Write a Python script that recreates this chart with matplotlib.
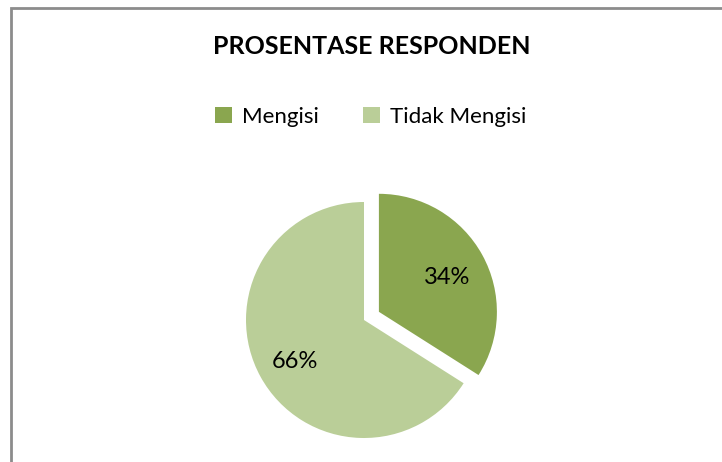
import matplotlib.pyplot as plt
from matplotlib.patches import Rectangle, Patch

labels = ["Mengisi", "Tidak Mengisi"]
values = [34, 66]
colors = ["#8AA64F", "#BACE98"]
title = "PROSENTASE RESPONDEN"

plt.rcParams['font.family'] = ['Lato', 'DejaVu Sans']

W, H = 722, 462
fig = plt.figure(figsize=(W / 100, H / 100), dpi=100)
ax = fig.add_axes([0, 0, 1, 1])

# outer chart frame (runs off the right and bottom edges)
ax.add_patch(Rectangle((11, -20), W + 40, H - 8 + 20, fill=False,
                       edgecolor='#8C8C8C', linewidth=2))

R = 118
# explode is in data units here (pixels), not a fraction of radius
wedges, texts = ax.pie(values, colors=colors, startangle=90, counterclock=False,
                       center=(364, H - 320), radius=R, explode=[17, 0],
                       frame=True, wedgeprops=dict(linewidth=0))
ax.set_xlim(0, W)
ax.set_ylim(0, H)
ax.set_aspect('equal')
ax.axis('off')

ax.text(447, H - 277, "34%", ha='center', va='center', fontsize=17, color='black')
ax.text(295, H - 362, "66%", ha='center', va='center', fontsize=17, color='black')

ax.text(372, H - 47, title, ha='center', va='center', fontsize=18,
        fontweight='bold', color='black')

handles = [Patch(facecolor=c, edgecolor='none') for c in colors]
fig.legend(handles, labels, loc='center', bbox_to_anchor=(371 / W, 1 - 117 / H),
           ncol=2, frameon=False, fontsize=16, handlelength=0.75, handleheight=0.75,
           handletextpad=0.45, columnspacing=2.0)

fig.savefig("out.png", dpi=100)
